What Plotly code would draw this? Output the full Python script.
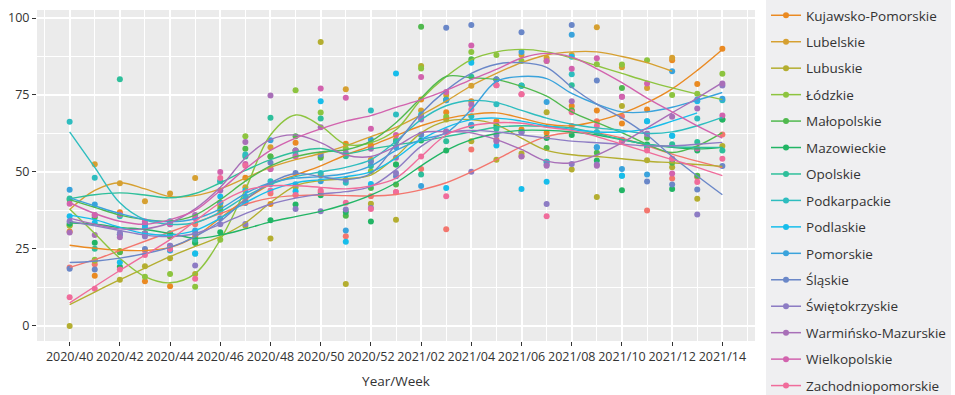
import plotly.graph_objects as go

# ---- week axis -------------------------------------------------------------
WEEKS = ["2020/40", "2020/41", "2020/42", "2020/43", "2020/44", "2020/45", "2020/46",
         "2020/47", "2020/48", "2020/49", "2020/50", "2020/51", "2020/52", "2021/01",
         "2021/02", "2021/03", "2021/04", "2021/05", "2021/06", "2021/07", "2021/08",
         "2021/09", "2021/10", "2021/11", "2021/12", "2021/13", "2021/14"]

REGIONS = ["Dolnośląskie", "Kujawsko-Pomorskie", "Lubelskie", "Lubuskie", "Łódzkie",
           "Małopolskie", "Mazowieckie", "Opolskie", "Podkarpackie", "Podlaskie",
           "Pomorskie", "Śląskie", "Świętokrzyskie", "Warmińsko-Mazurskie",
           "Wielkopolskie", "Zachodniopomorskie"]

COLORS = ["#F3766E", "#EA8A22", "#D6A031", "#B4AE30", "#8DC43F", "#50B94E", "#22B565",
          "#2EBF9B", "#2EBDBF", "#17BDEB", "#3AA3DC", "#6A87C8", "#8D7CC4", "#A86FB8",
          "#D263AE", "#F06C9B"]

# ---- weekly values ----------------------------------------------------------
DOLNOSLASKIE = [19, 20, 24, 24.5, 29, 33, 37, 41, 43, 42.5, 43.3, 29.1, 42.1, 43.4, 51, 31.4,
                57.3, 60.5, 55.1, 61.1, 64.9, 66.5, 68.1, 37.5, 47.9, 48.3, 62.2]
KUJAWSKO = [30.7, 16.3, 36.9, 14.5, 12.9, 29, 40, 48.1, 39.6, 59.5, 48.9, 59.2, 58.7, 60.5, 73.5,
            69.4, 73, 66.5, 63.8, 62.7, 71.4, 70, 65.7, 70.3, 86.3, 78.6, 90]
LUBELSKIE = [32.5, 52.5, 46.3, 40.5, 43, 48, 39, 45, 58, 57, 55, 76.9, 54, 60, 70, 75, 78, 80,
             88, 87, 88, 97, 84, 77.3, 87.1, None, None]
LUBUSKIE = [0, 21.2, 15, 19.4, 22, 16.9, 40, 32.5, 28.4, 45, 92.2, 13.6, 39.7, 34.5, 84.4, 67,
            60, 54, 56, 69.4, 50.8, 41.9, 71.4, 53.8, 51.5, 41.3, 58.4]
LODZKIE = [32.7, 21.5, 24.3, 16, 16.9, 12.7, 28, 61.6, 55, 76.5, 69.3, 57.6, 50.2, 52.4, 83.6,
           67.9, 89, 88, 86, 86, 70, 85, 84.9, 86.3, 75, 75.4, 81.9]
MALOPOLSKIE = [41, 35.3, 23.9, 30, 29, 27, 38, 57.5, 55, 61.6, 54.6, 35.8, 44.8, 45.9, 97.2,
               73.5, 86.6, 80, 78, 57.8, 70, 56.2, 77.3, 61.1, 53, 48.8, 67]
MAZOWIECKIE = [33.2, 27, 19.2, 30, 30, 27, 30.4, 40, 34.3, 39.4, 42.4, 37, 33.9, 52.4, 60.2, 57,
               65, 65, 63, 61, 62, 53.7, 44.1, 58.9, 44.5, 57, 67]
OPOLSKIE = [41.4, 25.1, 80.1, 33, 30, 28, 47, 55, 67.6, 57, 67.4, 55.1, 51.9, 60, 49.2, 60, 80.9,
            64, 78.1, 53.3, 78.2, 62.9, 60, 58, 59, 59.7, 57]
PODKARPACKIE = [66.3, 48.1, 35.6, 33, 34, 23.5, 47, 55.7, 47, 55.5, 49.7, 46.5, 70, 68.7, 68.7,
                73.3, 68.1, 72, 78, 53.3, 81.7, 62.9, 48.8, 66.5, 61.8, 67.4, 73.3]
PODLASKIE = [35.6, 33.5, 20.7, 32, 24.6, 23.5, 42, 44, 46, 43.7, 73, 27.3, 46.1, 82, 62, 44.8,
             85.5, 58.6, 44.5, 46.8, 87.4, 58, 48.8, 66.5, 61.8, 73, None]
POMORSKIE = [44.2, 39.4, 29.7, 33, 24.5, 31, 40, 42, 60.3, 46, 47, 31, 60.5, 58, 45.4, 73.3,
             65.3, 80, 89, 72.7, 94.6, 58, 51, 49.2, 82.7, 73.5, 73.8]
SLASKIE = [18.6, 18.3, 29.7, 25, 26, 30, 35, 40, 53, 49.7, 55.7, 47.5, 53.3, 48.6, 62.2, 96.8,
           97.7, 80, 95.4, 52.4, 97.7, 79.7, 60.5, 46.9, 45.9, 44.3, 51.9]
SWIETOKRZYSKIE = [34, 36, 30.2, 29, 26, 19.6, 33, 33.1, 51, 38, 37.2, 37.8, 38.3, 49.7, 67.9,
                  63.2, 50.1, 62, 62.9, 39.6, 52.6, 52.4, 60.5, 62.4, 54.3, 36.2, 78.1]
WARMINSKO = [30.3, 29.5, 28.8, 30, 33, 36, 44, 59.7, 74.8, 57, 64.5, 56.2, 57.5, 54.6, 67, 63,
             71.9, 60, 55, 52, 73, 52, 74.4, 62.4, 67.9, 70.6, 78.7]
WIELKOPOLSKIE = [39.7, 36, 36.2, 34, 33, 35, 50, 52.6, 51, 55, 77.1, 74.1, 64, 62, 80.8, 76,
                 91.1, 78.2, 75.2, 86, 83.5, 86.9, 74.4, 78.7, 49.5, 57.6, 68.3]
ZACHODNIO = [9.3, 12.1, 18.3, 23, 25, 15.3, 48, 52, 44, 42.5, 44, 40, 38, 43.5, 55, 42.1, 70.3,
             78.2, 75.2, 35.6, 69.4, 64.9, 60, 57, 54.3, 46.7, 54.3]

# ---- smoothed trend per region (same weekly grid) ---------------------------
DOLNOSLASKIE_TREND = [19, 21.5, 24.5, 27.5, 30.5, 33.5, 36.5, 39.5, 41.5, 42.3, 42.5, 42.3, 42.2,
                      42.7, 44.2, 46.5, 50, 54, 58.2, 61.5, 62.8, 62.7, 61, 58.5, 55.8, 53.5, 51.4]
KUJAWSKO_TREND = [26.2, 25.2, 24.6, 24.5, 25.5, 29, 35, 41, 46, 49, 52, 55.5, 58.5, 61.8, 65,
                  67.3, 68.7, 69.2, 67.5, 65.5, 65, 66.5, 69, 72.5, 77, 83, 89.8]
LUBELSKIE_TREND = [37.8, 44, 46.5, 44.5, 42, 42.3, 44.5, 48, 51.5, 54, 56, 58.5, 61.5, 64.5, 68.5,
                   73, 78, 82, 85.5, 88, 89, 89, 87.5, 85.5, 82.7, None, None]
LUBUSKIE_TREND = [6.9, 11, 15, 18.8, 22.5, 25.8, 29, 33.5, 40, 45.5, 47.2, 47.8, 49, 55, 62.7,
                  66.5, 67, 65.4, 61, 57, 55.6, 55, 54.3, 53.5, 53, 52.4, 51.8]
LODZKIE_TREND = [38, 30, 22, 16, 14, 17, 28, 44.3, 62, 68.5, 65, 59, 59.5, 63.7, 73.5, 81, 86.5,
                 89, 89.8, 89, 87, 84.5, 82, 79.5, 77.3, 75.3, 73.5]
MALOPOLSKIE_TREND = [41, 38.5, 36, 34.5, 34, 36, 41, 47, 52, 55, 56.5, 57.2, 60, 66, 74, 81, 80.6,
                     80, 77.8, 74.6, 69.5, 66, 62.8, 59, 56.3, 58.5, 62.8]
MAZOWIECKIE_TREND = [33.5, 33, 32, 31.3, 30, 28.5, 29.5, 31.5, 33.8, 35.5, 37.2, 39.5, 42.5, 46.5,
                     52, 57, 60.5, 62.5, 63.5, 63.5, 63, 62, 60.5, 59, 58, 57.5, 58]
OPOLSKIE_TREND = [41.3, 42.6, 43.2, 42.5, 41.6, 43, 46.5, 50.5, 54, 56.5, 57.6, 56, 57.5, 58.8, 60,
                  61.5, 63, 64.5, 65, 64.8, 64.3, 62.5, 60.5, 59, 58.2, 58, 58]
PODKARPACKIE_TREND = [63, 51.5, 40, 34.5, 33, 33.5, 37, 42, 46, 48.5, 50, 51.5, 54, 60, 67, 71.5,
                      73.2, 72.5, 70, 67.5, 65.5, 64.3, 63.5, 62.5, 63, 65, 67.7]
PODLASKIE_TREND = [36, 34.5, 32, 30, 29.5, 31, 35, 40, 44, 46.5, 47.5, 48.5, 50, 54.5, 60.5, 64.5,
                   67, 67.5, 66.5, 65, 63.8, 63, 63, 64, 66.5, 69.2, None]
POMORSKIE_TREND = [41.6, 39, 36.5, 34.5, 33.8, 34.8, 38, 43, 46.5, 48, 48.5, 49.5, 52, 57, 60.5,
                   62.7, 70.3, 79.4, 81, 80.3, 75.5, 72, 69.5, 69.5, 71, 73.3, 75.8]
SLASKIE_TREND = [20.6, 21, 22, 23.5, 25.5, 29, 34, 41, 46.5, 49.5, 48.5, 47.5, 49.5, 59, 69, 76.5,
                 82, 85, 85.5, 84, 77.5, 72, 67.5, 62, 55, 48.7, 42.6]
SWIETOKRZYSKIE_TREND = [34, 32.5, 31, 29.5, 29, 30, 33, 36.5, 39.5, 41.5, 42.8, 43.6, 45.3, 50.8,
                        58.3, 62.7, 63.5, 63, 62, 61, 60, 59.5, 59, 58.5, 58.5, 59, 59.6]
WARMINSKO_TREND = [35, 33, 31.5, 31.5, 33.5, 38, 45, 54.5, 60.5, 62, 59.5, 55.5, 55, 58.3, 62.7,
                   63.1, 62.7, 60.5, 57.3, 53.5, 53, 55.5, 59.5, 64.3, 69.2, 74, 79]
WIELKOPOLSKIE_TREND = [40, 36.5, 34, 33, 34.5, 37.5, 44, 51, 57, 61, 64, 66.5, 68.3, 71, 73.5, 76.5,
                       80, 83.3, 87, 88.5, 87.3, 83.5, 79, 74, 69.5, 65, 61]
ZACHODNIO_TREND = [7.5, 12.8, 18, 23, 28, 34, 40, 44, 45.5, 45.5, 45, 44.5, 45.5, 48, 55, 62, 65,
                   66, 65.8, 64.5, 63.5, 61.5, 59, 56.5, 54, 51.5, 48.8]

VALUES = [DOLNOSLASKIE, KUJAWSKO, LUBELSKIE, LUBUSKIE, LODZKIE, MALOPOLSKIE, MAZOWIECKIE,
          OPOLSKIE, PODKARPACKIE, PODLASKIE, POMORSKIE, SLASKIE, SWIETOKRZYSKIE, WARMINSKO,
          WIELKOPOLSKIE, ZACHODNIO]
TRENDS = [DOLNOSLASKIE_TREND, KUJAWSKO_TREND, LUBELSKIE_TREND, LUBUSKIE_TREND, LODZKIE_TREND,
          MALOPOLSKIE_TREND, MAZOWIECKIE_TREND, OPOLSKIE_TREND, PODKARPACKIE_TREND,
          PODLASKIE_TREND, POMORSKIE_TREND, SLASKIE_TREND, SWIETOKRZYSKIE_TREND,
          WARMINSKO_TREND, WIELKOPOLSKIE_TREND, ZACHODNIO_TREND]

# regions listed in the legend panel
LEGEND_REGIONS = REGIONS[1:]

x = list(range(len(WEEKS)))
fig = go.Figure()

# weekly points
for name, vals, col in zip(REGIONS, VALUES, COLORS):
    fig.add_trace(go.Scatter(
        x=x, y=vals, mode="markers", name=name, legendgroup=name, showlegend=False,
        marker=dict(color=col, size=6, line=dict(width=0)),
        hovertemplate="%{y}<extra>" + name + "</extra>"))

# smoothed trends
for name, trend, col in zip(REGIONS, TRENDS, COLORS):
    fig.add_trace(go.Scatter(
        x=x, y=trend, mode="lines", name=name, legendgroup=name, showlegend=False,
        line=dict(color=col, width=1.4, shape="spline", smoothing=1.0),
        connectgaps=False, hoverinfo="skip"))

# legend entries
for name, col in zip(REGIONS, COLORS):
    fig.add_trace(go.Scatter(
        x=[None], y=[None], mode="lines+markers", name=name, legendgroup=name,
        showlegend=name in LEGEND_REGIONS,
        line=dict(color=col, width=1.5), marker=dict(color=col, size=6)))

tick_idx = x[::2]
minor_x = list(range(-1, len(WEEKS) + 1, 2))

fig.update_layout(
    width=955, height=395,
    margin=dict(l=37, r=200, t=10, b=54, autoexpand=False),
    paper_bgcolor="white",
    plot_bgcolor="#EBEBEB",
    font=dict(family="Open Sans, sans-serif", color="#333333", size=12),
    showlegend=True,
    legend=dict(
        xref="container", yref="container", x=0.8021, y=1.0101,
        xanchor="left", yanchor="top",
        bgcolor="#EFEFF1", borderwidth=0,
        font=dict(size=13.5, color="#333333"),
        tracegroupgap=5.9, maxheight=600, itemwidth=30,
    ),
    xaxis=dict(
        range=[-1.3, 27.3], tickmode="array", tickvals=tick_idx,
        ticktext=[WEEKS[i] for i in tick_idx],
        showgrid=True, gridcolor="white", gridwidth=1.9, zeroline=False,
        ticks="outside", ticklen=4, tickwidth=1.2, tickcolor="#333333",
        tickfont=dict(size=12.5, color="#333333"),
        minor=dict(tickmode="array", tickvals=minor_x, showgrid=True,
                   gridcolor="white", gridwidth=1, ticks=""),
        title=dict(text="Year/Week", font=dict(size=13.5, color="#333333"), standoff=12),
        fixedrange=True,
    ),
    yaxis=dict(
        range=[-4.9, 102.6], tickmode="array", tickvals=[0, 25, 50, 75, 100],
        showgrid=True, gridcolor="white", gridwidth=1.9, zeroline=False,
        ticks="outside", ticklen=4, tickwidth=1.2, tickcolor="#333333",
        tickfont=dict(size=12.5, color="#333333"),
        minor=dict(tickmode="array", tickvals=[12.5, 37.5, 62.5, 87.5], showgrid=True,
                   gridcolor="white", gridwidth=1, ticks=""),
        fixedrange=True,
    ),
)

fig.write_html("out.html")
